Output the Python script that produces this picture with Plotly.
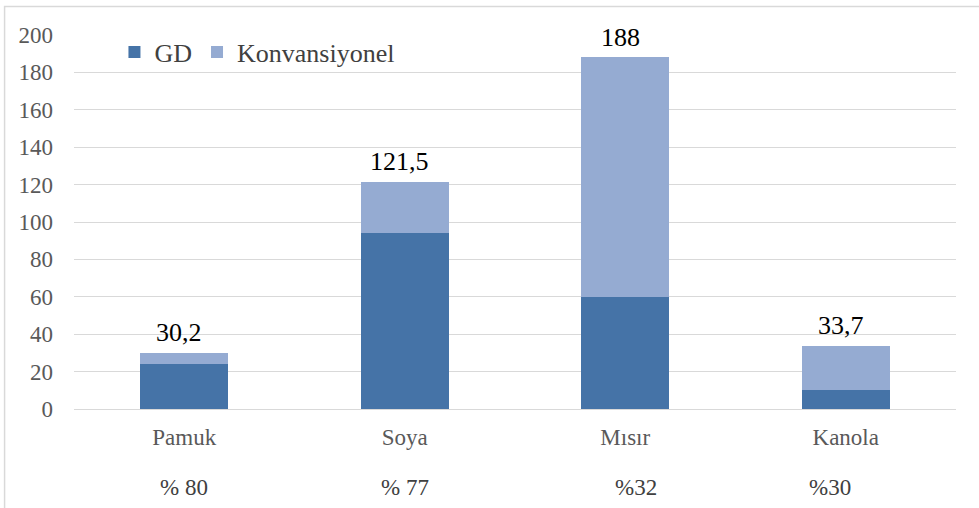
import plotly.graph_objects as go

categories = ["Pamuk", "Soya", "Mısır", "Kanola"]
gd_values = [24, 94, 60, 10]
konv_values = [6.2, 27.5, 128, 23.7]
totals = [30.2, 121.5, 188, 33.7]
total_labels = ["30,2", "121,5", "188", "33,7"]
share_labels = ["% 80", "% 77", "%32", "%30"]
y_ticks = [0, 20, 40, 60, 80, 100, 120, 140, 160, 180, 200]

FONT = "Liberation Serif"
W, H = 979, 508
ML, MR, MT, MB = 73.5, 22.5, 35, 99

fig = go.Figure()
fig.add_trace(go.Bar(x=categories, y=gd_values, name="GD",
                     marker=dict(color="#4573a7", line=dict(width=0))))
fig.add_trace(go.Bar(x=categories, y=konv_values, name="Konvansiyonel",
                     marker=dict(color="#95abd2", line=dict(width=0))))

# total labels above bars
for c, t, lab in zip(categories, totals, total_labels):
    fig.add_annotation(x=c, y=t, xref="x", yref="y", text=lab, showarrow=False,
                       yanchor="middle", yshift=20, xshift=-5,
                       font=dict(family=FONT, size=26, color="#000000"))

# share labels below category names
share_shift = [0, 0, 11, -16]
for c, lab, dx in zip(categories, share_labels, share_shift):
    fig.add_annotation(x=c, y=-0.2086, xref="x", yref="paper", text=lab, showarrow=False,
                       yanchor="middle", xshift=dx,
                       font=dict(family=FONT, size=23, color="#404040"))

pw = W - ML - MR
ph = H - MT - MB
# outer frame
fig.add_shape(type="rect", xref="paper", yref="paper",
              x0=(4 - ML) / pw, x1=(W + 10 - ML) / pw,
              y0=(H - MB - (H + 10)) / ph, y1=(H - MB - 6.5) / ph,
              line=dict(color="#d9d9d9", width=1.5), fillcolor="rgba(0,0,0,0)", layer="below")

fig.update_layout(
    width=W, height=H,
    margin=dict(l=ML, r=MR, t=MT, b=MB),
    barmode="stack", bargap=0.6,
    plot_bgcolor="white", paper_bgcolor="white",
    font=dict(family=FONT, size=23, color="#595959"),
    showlegend=True,
    legend=dict(orientation="h", x=(114 - ML) / pw, xanchor="left",
                y=(H - MB - 52) / ph, yanchor="middle",
                font=dict(family=FONT, size=26, color="#404040"),
                bgcolor="rgba(0,0,0,0)", itemwidth=30, traceorder="normal"),
    xaxis=dict(showgrid=False, showline=False, ticks="", ticklabelstandoff=12,
               tickfont=dict(family=FONT, size=23, color="#595959")),
    yaxis=dict(range=[0, 200], tickvals=y_ticks, showgrid=True, gridcolor="#d9d9d9",
               gridwidth=1, zeroline=True, zerolinecolor="#d9d9d9", zerolinewidth=1,
               showline=False, ticks="", ticklabelstandoff=20,
               tickfont=dict(family=FONT, size=23, color="#595959")),
)

fig.write_html("out.html", config={"displayModeBar": False},
               post_script="document.body.style.margin='0';document.body.style.overflow='hidden';")
